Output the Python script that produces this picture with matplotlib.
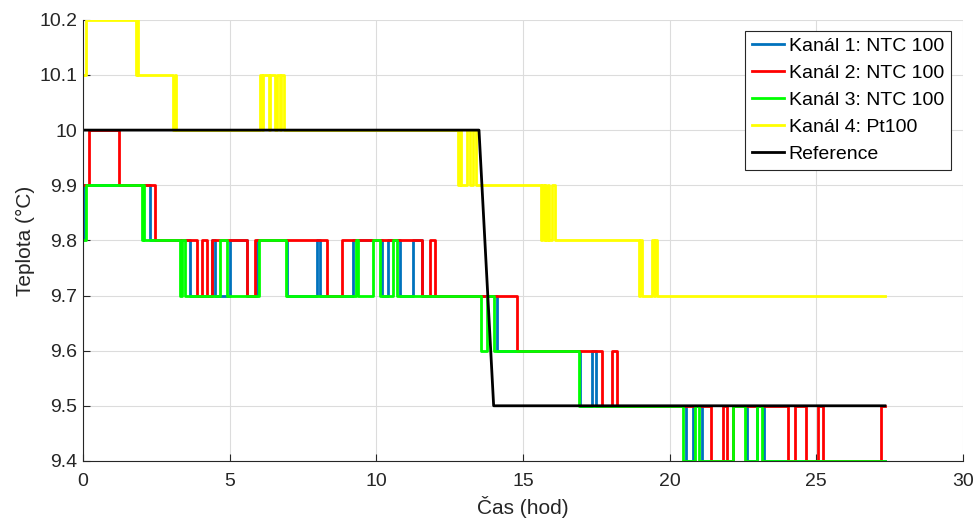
import numpy as np
import matplotlib.pyplot as plt

plt.rcParams['font.family'] = ['Liberation Sans', 'DejaVu Sans']

t_end = 27.34

# Kanál 1 (modrá) - časy změn a hodnoty
t1 = [0, 0.05, 2.3, 3.65, 4.39, 4.5, 5.01, 5.6, 5.92, 6.97, 7.97, 8.08,
      9.2, 10.2, 10.4, 10.8, 11.26, 11.55, 14.1, 16.95, 17.34, 17.49,
      20.56, 20.79, 21.09, 22.17, 22.63, 22.97, 23.2]
v1 = [9.8, 9.9, 9.8, 9.7, 9.8, 9.7, 9.8, 9.7, 9.8, 9.7, 9.8, 9.7,
      9.8, 9.7, 9.8, 9.7, 9.8, 9.7, 9.6, 9.5, 9.6, 9.5,
      9.4, 9.5, 9.4, 9.5, 9.4, 9.5, 9.4]

# Kanál 2 (červená)
t2 = [0, 0.2, 1.23, 2.45, 3.88, 4.05, 4.22, 4.39, 5.6, 5.86, 8.31, 8.82,
      11.55, 11.83, 12.0, 14.78, 17.68, 18.02, 18.2, 21.41, 21.81, 21.94,
      22.17, 24.05, 24.27, 24.64, 25.07, 25.24, 27.2]
v2 = [9.9, 10.0, 9.9, 9.8, 9.7, 9.8, 9.7, 9.8, 9.7, 9.8, 9.7, 9.8,
      9.7, 9.8, 9.7, 9.6, 9.5, 9.6, 9.5, 9.4, 9.5, 9.4,
      9.5, 9.4, 9.5, 9.4, 9.5, 9.4, 9.5]

# Kanál 3 (zelená)
t3 = [0, 0.1, 2.0, 2.04, 2.08, 3.3, 3.38, 3.48, 4.67, 4.9, 6.01, 6.92,
      9.3, 9.37, 9.88, 10.13, 10.56, 10.69, 13.56, 13.79, 14.01, 16.92,
      20.47, 20.87, 21.01, 22.17, 22.57, 22.97, 23.14]
v3 = [9.8, 9.9, 9.8, 9.9, 9.8, 9.7, 9.8, 9.7, 9.8, 9.7, 9.8, 9.7,
      9.8, 9.7, 9.8, 9.7, 9.8, 9.7, 9.6, 9.7, 9.6, 9.5,
      9.4, 9.5, 9.4, 9.5, 9.4, 9.5, 9.4]

# Kanál 4 (žlutá)
t4 = [0, 0.12, 1.8, 1.84, 1.88, 3.08, 3.13, 3.18, 6.03, 6.1, 6.15, 6.33,
      6.36, 6.55, 6.6, 6.7, 6.75, 6.85, 12.8, 12.85, 12.9, 13.1, 13.2,
      13.3, 13.4, 15.6, 15.65, 15.7, 15.75, 15.8, 15.85, 15.9, 15.98,
      16.1, 18.96, 19.0, 19.05, 19.39, 19.45, 19.5, 19.56]
v4 = [10.1, 10.2, 10.1, 10.2, 10.1, 10.0, 10.1, 10.0, 10.1, 10.0, 10.1, 10.0,
      10.1, 10.0, 10.1, 10.0, 10.1, 10.0, 9.9, 10.0, 9.9, 10.0, 9.9,
      10.0, 9.9, 9.8, 9.9, 9.8, 9.9, 9.8, 9.9, 9.8, 9.9,
      9.8, 9.7, 9.8, 9.7, 9.8, 9.7, 9.8, 9.7]

# Reference
t_ref = [0, 13.5, 14.0, t_end]
v_ref = [10.0, 10.0, 9.5, 9.5]

fig, ax = plt.subplots(figsize=(9.76, 5.22), dpi=100)
fig.subplots_adjust(left=0.085, right=0.9867, bottom=0.117, top=0.962)

serie = [(t1, v1, '#0072BD', 'Kanál 1: NTC 100'),
         (t2, v2, '#FF0000', 'Kanál 2: NTC 100'),
         (t3, v3, '#00FF00', 'Kanál 3: NTC 100'),
         (t4, v4, '#FFFF00', 'Kanál 4: Pt100')]

for t, v, c, lab in serie:
    tt = np.append(t, t_end)
    vv = np.append(v, v[-1])
    ax.step(tt, vv, where='post', color=c, lw=2, label=lab)

ax.plot(t_ref, v_ref, color='black', lw=2, label='Reference')

ax.set_xlim(0, 30)
ax.set_ylim(9.4, 10.2)
ax.set_xticks(np.arange(0, 31, 5))
ax.set_yticks(np.round(np.arange(9.4, 10.21, 0.1), 1))
ax.set_yticklabels(['9.4', '9.5', '9.6', '9.7', '9.8', '9.9', '10', '10.1', '10.2'])
ax.grid(True, color='#dcdcdc', lw=0.8)
ax.set_axisbelow(True)
ax.tick_params(direction='in', labelsize=14, colors='#262626', length=5)
ax.tick_params(axis='x', pad=9)
ax.tick_params(axis='y', pad=4)
for s in ['top', 'right']:
    ax.spines[s].set_visible(False)
for s in ['left', 'bottom']:
    ax.spines[s].set_color('#262626')

ax.set_xlabel('Čas (hod)', fontsize=15, color='#262626', labelpad=4)
ax.set_ylabel('Teplota (°C)', fontsize=15, color='#262626', labelpad=3)

leg = ax.legend(loc='upper right', bbox_to_anchor=(0.986, 0.975), fontsize=14,
                fancybox=False, framealpha=1, edgecolor='#262626',
                borderpad=0.35, labelspacing=0.48, handlelength=1.65,
                handletextpad=0.25, borderaxespad=0)
leg.get_frame().set_linewidth(0.8)

fig.savefig('out.png')
